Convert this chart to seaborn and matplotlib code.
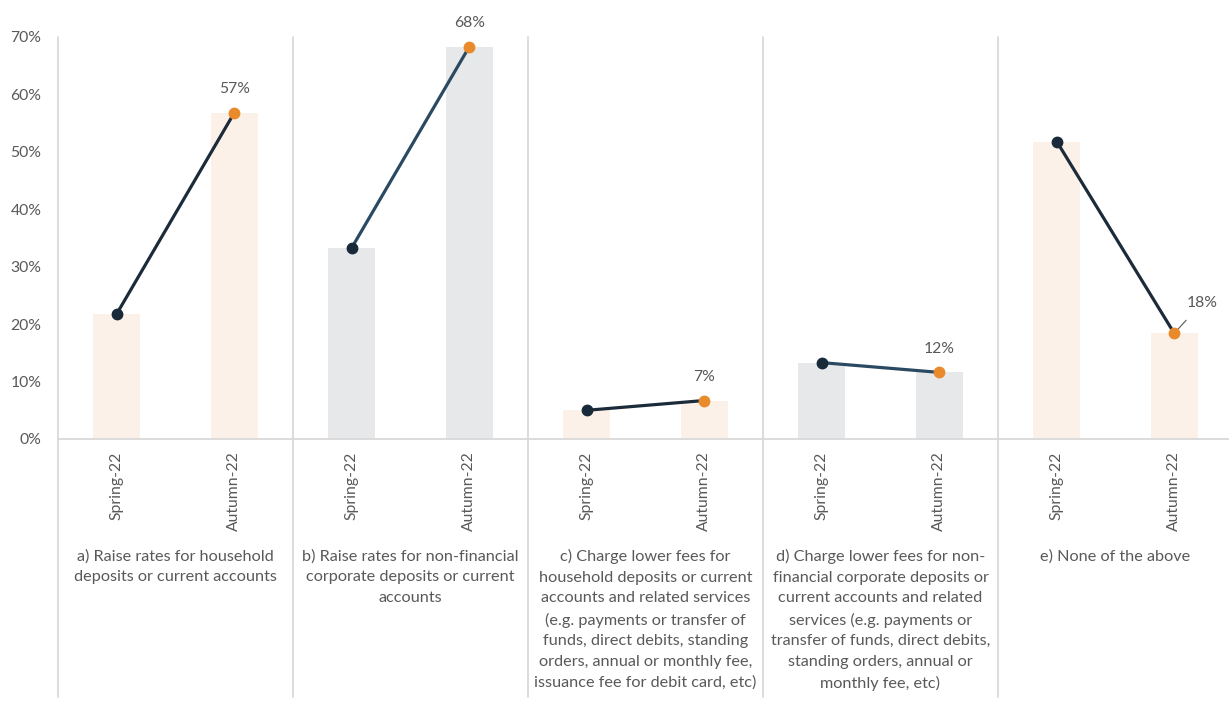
import matplotlib
matplotlib.use("Agg")
import matplotlib.pyplot as plt
import matplotlib.transforms as mtransforms
import seaborn as sns
import pandas as pd

# ---------------- data ----------------
groups = ["a", "b", "c", "d", "e"]
group_labels = [
    "a) Raise rates for household\ndeposits or current accounts",
    "b) Raise rates for non-financial\ncorporate deposits or current\naccounts",
    "c) Charge lower fees for\nhousehold deposits or current\naccounts and related services\n(e.g. payments or transfer of\nfunds, direct debits, standing\norders, annual or monthly fee,\nissuance fee for debit card, etc)",
    "d) Charge lower fees for non-\nfinancial corporate deposits or\ncurrent accounts and related\nservices (e.g. payments or\ntransfer of funds, direct debits,\nstanding orders, annual or\nmonthly fee, etc)",
    "e) None of the above",
]
seasons = ["Spring-22", "Autumn-22"]
spring = [21.8, 33.3, 5.0, 13.3, 51.8]
autumn = [56.8, 68.3, 6.7, 11.6, 18.4]
value_labels = ["57%", "68%", "7%", "12%", "18%"]
y_ticks = [0, 10, 20, 30, 40, 50, 60, 70]

# ---------------- styling ----------------
sns.set_theme(style="white")
plt.rcParams["font.family"] = ["Lato", "DejaVu Sans"]
TXT = "#595959"
AX = "#D9D9D9"
bar_colors = {"peach": "#FCF1E8", "gray": "#E7E8EA"}
line_colors = ["#1C2B39", "#2B4A62", "#1C2B39", "#2B4A62", "#1C2B39"]
SPRING_MK = "#182A3A"
AUTUMN_MK = "#E98B2C"
FS = 11.3
FS_GRP = 11.7

rows = []
for i, g in enumerate(groups):
    shade = "peach" if i % 2 == 0 else "gray"
    rows.append({"slot": f"{g} {seasons[0]}", "value": spring[i], "shade": shade})
    rows.append({"slot": f"{g} {seasons[1]}", "value": autumn[i], "shade": shade})
df = pd.DataFrame(rows)
order = list(df["slot"])

fig = plt.figure(figsize=(12.29, 7.24), dpi=100)
W, H = 1229, 724
left_px, right_px, top_px, bottom_px = 58, 1233, 37, 439
ax = fig.add_axes([left_px / W, (H - bottom_px) / H,
                   (right_px - left_px) / W, (bottom_px - top_px) / H])

sns.barplot(data=df, x="slot", y="value", hue="shade", order=order,
            palette=bar_colors, dodge=False, width=0.4, legend=False,
            saturation=1, ax=ax, edgecolor="none", linewidth=0)

for i in range(len(groups)):
    xs = [2 * i, 2 * i + 1]
    ys = [spring[i], autumn[i]]
    ax.plot(xs, ys, color=line_colors[i], lw=2.3, zorder=3, solid_capstyle="round")
    ax.plot(xs[0], ys[0], "o", ms=7.5, color=SPRING_MK, zorder=4)
    ax.plot(xs[1], ys[1], "o", ms=7.5, color=AUTUMN_MK, mec=AUTUMN_MK, zorder=4)
    if i == 4:
        ax.annotate(value_labels[i], (xs[1], ys[1]), xytext=(20, 22),
                    textcoords="offset points", ha="center", va="center",
                    fontsize=FS, color=TXT,
                    arrowprops=dict(arrowstyle="-", color="#595959", lw=0.8,
                                    shrinkA=7, shrinkB=2))
    else:
        ax.annotate(value_labels[i], (xs[1], ys[1]), xytext=(0, 17),
                    textcoords="offset points", ha="center", va="center",
                    fontsize=FS, color=TXT)

ax.set_ylim(0, 70)
ax.set_xlim(-0.5, 9.5)
ax.set_yticks(y_ticks)
ax.set_yticklabels([f"{v}%" for v in y_ticks], fontsize=FS, color=TXT)
ax.set_xticks(range(len(order)))
ax.set_xticklabels([seasons[k % 2] for k in range(len(order))],
                   rotation=90, fontsize=FS, color=TXT)
ax.tick_params(axis="both", length=0)
ax.tick_params(axis="y", pad=12)
ax.tick_params(axis="x", pad=9)
ax.set_xlabel("")
ax.set_ylabel("")
ax.grid(False)

for s in ["top", "right"]:
    ax.spines[s].set_visible(False)
ax.spines["left"].set_visible(False)
ax.spines["bottom"].set_color(AX)
ax.spines["bottom"].set_linewidth(1.3)

# vertical separators (incl. left axis), extending below into the label area
trans = mtransforms.blended_transform_factory(ax.transData, ax.transAxes)
y_low = -(697 - bottom_px) / (bottom_px - top_px)
for xv in [-0.5, 1.5, 3.5, 5.5, 7.5]:
    ax.plot([xv, xv], [y_low, 1.0], color=AX, lw=1.3, transform=trans,
            clip_on=False, zorder=1)

# group labels
y_grp = -(549 - bottom_px) / (bottom_px - top_px)
for i, lab in enumerate(group_labels):
    ax.text(2 * i + 0.5, y_grp, lab, transform=trans, ha="center", va="top",
            multialignment="center", fontsize=FS_GRP, color=TXT, linespacing=1.6)

fig.savefig("out.png", dpi=100, facecolor="white")
